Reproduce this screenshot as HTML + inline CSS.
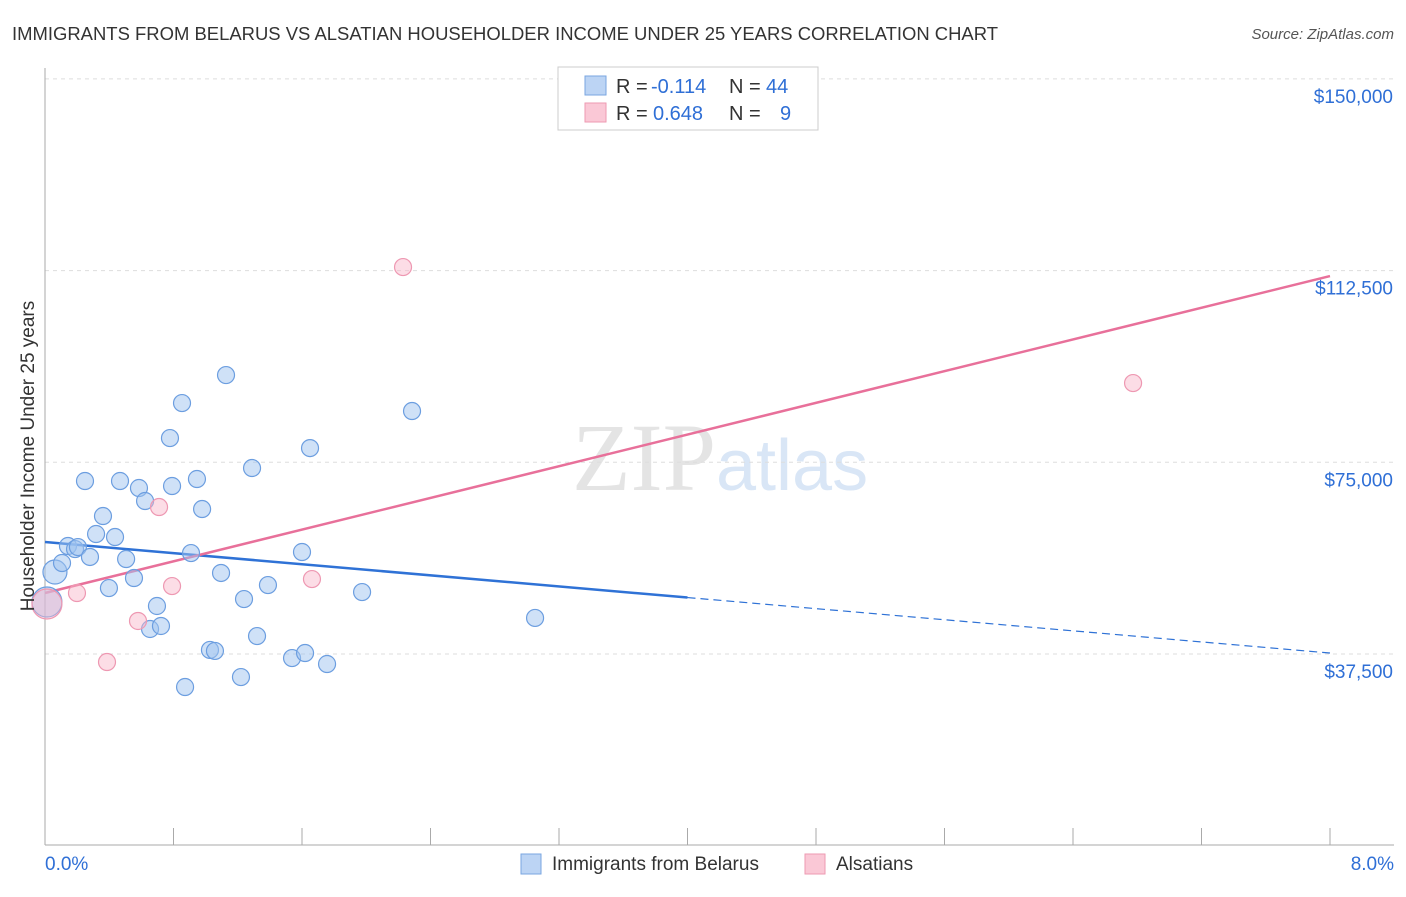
<!DOCTYPE html>
<html><head><meta charset="utf-8"><style>
body{margin:0;background:#fff;font-family:"Liberation Sans",sans-serif;}
</style></head><body>
<svg id="chart" width="1406" height="892" xmlns="http://www.w3.org/2000/svg">
<text x="12" y="40" font-size="18" fill="#333" textLength="986" lengthAdjust="spacingAndGlyphs">IMMIGRANTS FROM BELARUS VS ALSATIAN HOUSEHOLDER INCOME UNDER 25 YEARS CORRELATION CHART</text>
<text x="1394" y="39" font-size="15" fill="#555" font-style="italic" text-anchor="end">Source: ZipAtlas.com</text>
<text x="716" y="490" font-size="96" fill="#e4e4e4" font-family="Liberation Serif,serif" text-anchor="end">ZIP</text>
<text x="716" y="490" font-size="72" fill="#d9e6f6">atlas</text>
<g id="grid"></g><g id="axes"></g><g id="trends"></g><g id="pts"></g>
<text x="34" y="456" font-size="19" fill="#333" transform="rotate(-90 34 456)" text-anchor="middle">Householder Income Under 25 years</text>
<g>
<rect x="558" y="67" width="260" height="63" fill="#fff" stroke="#ccc"/>
<rect x="585" y="76" width="21" height="19" fill="#bcd4f4" stroke="#7aa6e0"/>
<rect x="585" y="103" width="21" height="19" fill="#fac8d6" stroke="#ee9ab2"/>
<text x="616" y="93" font-size="20" fill="#333">R =</text>
<text x="651" y="93" font-size="20" fill="#2f6fd6">-0.114</text>
<text x="729" y="93" font-size="20" fill="#333">N =</text>
<text x="766" y="93" font-size="20" fill="#2f6fd6">44</text>
<text x="616" y="120" font-size="20" fill="#333">R =</text>
<text x="653" y="120" font-size="20" fill="#2f6fd6">0.648</text>
<text x="729" y="120" font-size="20" fill="#333">N =</text>
<text x="780" y="120" font-size="20" fill="#2f6fd6">9</text>
</g>
<g>
<rect x="521" y="854" width="20" height="20" fill="#bcd4f4" stroke="#7aa6e0"/>
<text x="552" y="870" font-size="19" fill="#333">Immigrants from Belarus</text>
<rect x="805" y="854" width="20" height="20" fill="#fac8d6" stroke="#ee9ab2"/>
<text x="836" y="870" font-size="19" fill="#333">Alsatians</text>
</g>
</svg>
<script>
const yTicks=[37500,75000,112500,150000];
const yTickLabels=["$37,500","$75,000","$112,500","$150,000"];
const xTickLabels=["0.0%","8.0%"];
const blueX=[0.062,0.012,0.143,0.187,0.205,0.106,0.280,0.249,0.318,0.361,0.436,0.398,0.467,0.505,0.554,0.585,0.623,0.654,0.697,0.722,0.778,0.791,0.853,0.872,0.909,0.946,0.978,1.027,1.058,1.096,1.127,1.220,1.239,1.289,1.320,1.388,1.538,1.600,1.619,1.650,1.756,1.974,2.285,3.051];
const blueY=[53540,47670,58620,58030,58420,55300,56480,71340,60970,64490,60380,50400,71340,56080,52360,69970,67430,42390,46890,42980,79740,70360,86590,31040,57250,71730,65860,38290,38100,53350,92070,32990,48250,73880,41010,50990,36710,57450,37690,77780,35540,49620,85030,44550];
const pinkX=[0.012,0.199,0.386,0.579,0.710,0.791,1.662,2.229,6.774];
const pinkY=[47280,49430,35930,43960,66250,50790,52160,113190,90500];
const blueTrend=[59400,37690];
const pinkTrend=[49430,111430];
const NS="http://www.w3.org/2000/svg";
const X=v=>45+v/8*1285, Y=v=>845.7-v/37500*191.7;
function mk(tag,attrs,parent){const e=document.createElementNS(NS,tag);for(const k in attrs)e.setAttribute(k,attrs[k]);document.getElementById(parent).appendChild(e);return e;}
yTicks.forEach((t,i)=>{
 let l=mk('line',{x1:45,x2:1394,y1:Y(t),y2:Y(t),stroke:'#ddd','stroke-dasharray':'4,4'},'grid');
 
 
 let tx=mk('text',{x:1393,y:Y(t)+24,'font-size':19,fill:'#2f6fd6','text-anchor':'end'},'grid');tx.textContent=yTickLabels[i];
 
 
});
let ax=mk('line',{x1:45,x2:45,y1:68,y2:845,stroke:'#aaa'},'axes');


let bx=mk('line',{x1:45,x2:1394,y1:845,y2:845,stroke:'#aaa'},'axes');


for(let i=1;i<=10;i++){let t=mk('line',{x1:X(i*0.8),x2:X(i*0.8),y1:828,y2:845,stroke:'#aaa'},'axes');
 
 }
[[0,'start',45],[8,'end',1394]].forEach((a,i)=>{let t=mk('text',{x:a[2],y:870,'font-size':19,fill:'#2f6fd6','text-anchor':a[1]},'axes');t.textContent=xTickLabels[i];
 
 });
const bmid=blueTrend[0]+(blueTrend[1]-blueTrend[0])*(4/8);
let bl=mk('line',{x1:X(0),y1:Y(blueTrend[0]),x2:X(4),y2:Y(bmid),stroke:'#2f72d6','stroke-width':2.5},'trends');


let bd=mk('line',{x1:X(4),y1:Y(bmid),x2:X(8),y2:Y(blueTrend[1]),stroke:'#2f72d6','stroke-width':1.2,'stroke-dasharray':'8,5'},'trends');


let pl=mk('line',{x1:X(0),y1:Y(pinkTrend[0]),x2:X(8),y2:Y(pinkTrend[1]),stroke:'#e8709a','stroke-width':2.5},'trends');


blueX.forEach((x,i)=>{const r=i==1?15:(i==0?12:8.5);
 let c=mk('circle',{cx:X(x),cy:Y(blueY[i]),r:r,fill:'rgba(160,196,240,0.5)',stroke:'#6c9ee0','stroke-width':1.2},'pts');
 
 });
pinkX.forEach((x,i)=>{const r=i==0?15:8.5;
 let c=mk('circle',{cx:X(x),cy:Y(pinkY[i]),r:r,fill:'rgba(248,180,200,0.45)',stroke:'#ee98b2','stroke-width':1.2},'pts');
 
 });
</script>
</body></html>
